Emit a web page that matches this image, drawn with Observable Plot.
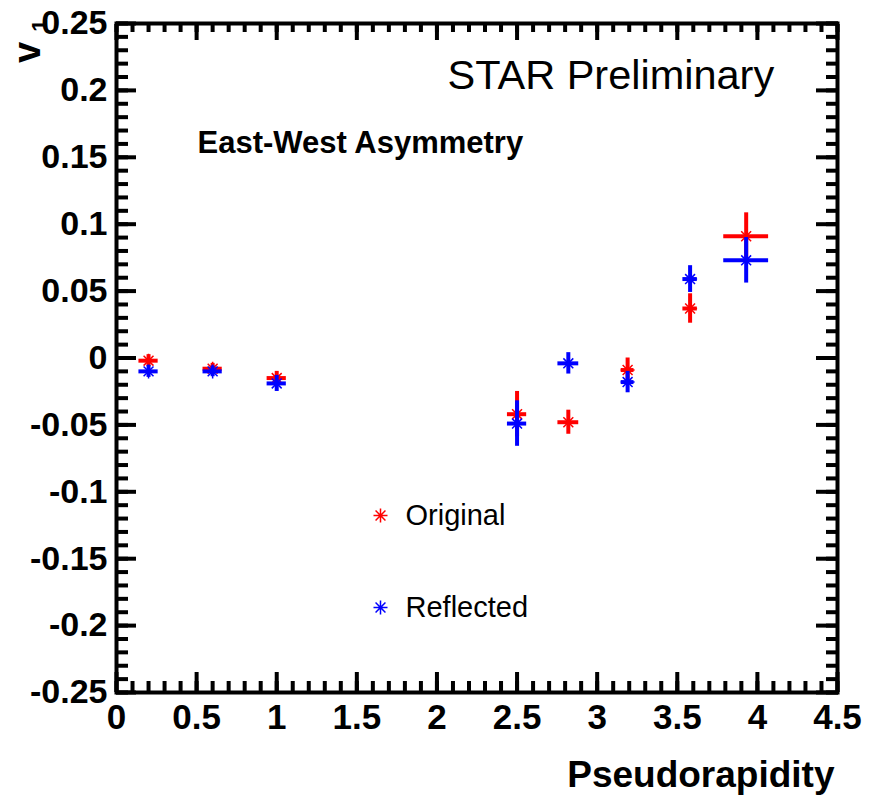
<!DOCTYPE html>
<html>
<head>
<meta charset="utf-8">
<script src="https://cdn.jsdelivr.net/npm/d3@7"></script>
<script src="https://cdn.jsdelivr.net/npm/@observablehq/plot@0.6"></script>
<style>
  html, body { margin: 0; padding: 0; background: #fff; }
  #chart { width: 873px; height: 803px; }
</style>
</head>
<body>
<div id="chart"></div>
<script>
// ---- data ----
const eta        = [0.2, 0.6, 1.0, 2.5, 2.82, 3.19, 3.58, 3.93];
const etaErr     = [0.06, 0.06, 0.06, 0.06, 0.065, 0.04, 0.045, 0.14];
const original   = [-0.002, -0.008, -0.015, -0.042, -0.048, -0.009, 0.037, 0.091];
const originalErr= [0.0045, 0.004, 0.005, 0.017, 0.009, 0.009, 0.011, 0.0175];
const reflected  = [-0.010, -0.010, -0.019, -0.049, -0.004, -0.018, 0.059, 0.073];
const reflectedErr=[0.0045, 0.004, 0.006, 0.017, 0.008, 0.008, 0.010, 0.017];

const xMajor = [0, 0.5, 1, 1.5, 2, 2.5, 3, 3.5, 4, 4.5];
const xMajorLabels = ["0", "0.5", "1", "1.5", "2", "2.5", "3", "3.5", "4", "4.5"];
const yMajor = [-0.25, -0.2, -0.15, -0.1, -0.05, 0, 0.05, 0.1, 0.15, 0.2, 0.25];
const yMajorLabels = ["-0.25", "-0.2", "-0.15", "-0.1", "-0.05", "0", "0.05", "0.1", "0.15", "0.2", "0.25"];
const xMinor = d3.range(46).map(i => i / 10);
const yMinor = d3.range(51).map(i => -0.25 + i / 100);

const seriesNames = ["Original", "Reflected"];
const seriesColors = ["#ff0000", "#0000ff"];

// ---- build tables ----
const origRows = eta.map((x, i) => ({x, dx: etaErr[i], y: original[i], dy: originalErr[i]}));
const reflRows = eta.map((x, i) => ({x, dx: etaErr[i], y: reflected[i], dy: reflectedErr[i]}));

// ROOT-like star marker (+ and x combined)
const star = {
  draw(context, size) {
    const r = Math.sqrt(size / Math.PI);
    const d = r * Math.SQRT1_2;
    context.moveTo(-r, 0); context.lineTo(r, 0);
    context.moveTo(0, -r); context.lineTo(0, r);
    context.moveTo(-d, -d); context.lineTo(d, d);
    context.moveTo(-d, d); context.lineTo(d, -d);
  }
};

const font = "'Liberation Sans', Arial, Helvetica, sans-serif";

function seriesMarks(rows, color) {
  return [
    Plot.ruleY(rows, {y: "y", x1: d => d.x - d.dx, x2: d => d.x + d.dx, stroke: color, strokeWidth: 4}),
    Plot.ruleX(rows, {x: "x", y1: d => d.y - d.dy, y2: d => d.y + d.dy, stroke: color, strokeWidth: 4}),
    Plot.dot(rows, {x: "x", y: "y", symbol: star, r: 7, stroke: color, strokeWidth: 1.5, fill: "none"})
  ];
}

const chart = Plot.plot({
  width: 873,
  height: 803,
  marginLeft: 116,
  marginRight: 36,
  marginTop: 23,
  marginBottom: 111,
  style: {fontFamily: font, background: "#fff", color: "#000"},
  x: {domain: [0, 4.5]},
  y: {domain: [-0.25, 0.25]},
  marks: [
    ...seriesMarks(origRows, seriesColors[0]),
    ...seriesMarks(reflRows, seriesColors[1]),
    // inward ticks on all four sides
    Plot.axisX({ticks: xMinor, anchor: "bottom", tickSize: -11, strokeWidth: 4, tickFormat: () => "", label: null}),
    Plot.axisX({ticks: xMajor, anchor: "bottom", tickSize: -20, strokeWidth: 4, tickFormat: () => "", label: null}),
    Plot.axisX({ticks: xMinor, anchor: "top", tickSize: -8, strokeWidth: 4, tickFormat: () => "", label: null}),
    Plot.axisX({ticks: xMajor, anchor: "top", tickSize: -16, strokeWidth: 4, tickFormat: () => "", label: null}),
    Plot.axisY({ticks: yMinor, anchor: "left", tickSize: -12, strokeWidth: 4, tickFormat: () => "", label: null}),
    Plot.axisY({ticks: yMajor, anchor: "left", tickSize: -20, strokeWidth: 4, tickFormat: () => "", label: null}),
    Plot.axisY({ticks: yMinor, anchor: "right", tickSize: -12, strokeWidth: 4, tickFormat: () => "", label: null}),
    Plot.axisY({ticks: yMajor, anchor: "right", tickSize: -22, strokeWidth: 4, tickFormat: () => "", label: null}),
    // tick labels
    Plot.axisX({ticks: xMajor, anchor: "bottom", tickSize: 0, tickPadding: 12, tickFormat: d => xMajorLabels[xMajor.indexOf(d)],
      fontSize: 35, fontWeight: "bold", fill: "#000", label: null}),
    Plot.axisY({ticks: yMajor, anchor: "left", tickSize: 0, tickPadding: 9, tickFormat: d => yMajorLabels[yMajor.indexOf(d)],
      fontSize: 34, fontWeight: "bold", fill: "#000", label: null}),
    Plot.frame({stroke: "#000", strokeWidth: 4}),
    // axis titles
    Plot.text(["Pseudorapidity"], {frameAnchor: "bottom-right", dx: -3, dy: 83, text: d => d,
      textAnchor: "end", lineAnchor: "middle", fontSize: 37, fontWeight: "bold", fill: "#000"}),
    Plot.text(["v"], {frameAnchor: "top-left", dx: -89, dy: 29, text: d => d, rotate: -90,
      textAnchor: "middle", lineAnchor: "middle", fontSize: 38, fontWeight: "bold", fill: "#000"}),
    Plot.text(["1"], {frameAnchor: "top-left", dx: -77, dy: 2, text: d => d, rotate: -90,
      textAnchor: "middle", lineAnchor: "middle", fontSize: 22, fontWeight: "bold", fill: "#000"}),
    // annotations
    Plot.text(["STAR Preliminary"], {frameAnchor: "top-left", dx: 331, dy: 52, text: d => d,
      textAnchor: "start", lineAnchor: "middle", fontSize: 41.5, fill: "#000"}),
    Plot.text(["East-West Asymmetry"], {frameAnchor: "top-left", dx: 81, dy: 120, text: d => d,
      textAnchor: "start", lineAnchor: "middle", fontSize: 31, fontWeight: "bold", fill: "#000"}),
    // legend
    Plot.dot([seriesNames[0]], {frameAnchor: "top-left", dx: 264, dy: 492, symbol: star, r: 7,
      stroke: seriesColors[0], strokeWidth: 1.5}),
    Plot.text([seriesNames[0]], {frameAnchor: "top-left", dx: 289, dy: 492, text: d => d,
      textAnchor: "start", lineAnchor: "middle", fontSize: 29, fill: "#000"}),
    Plot.dot([seriesNames[1]], {frameAnchor: "top-left", dx: 264, dy: 584, symbol: star, r: 7,
      stroke: seriesColors[1], strokeWidth: 1.5}),
    Plot.text([seriesNames[1]], {frameAnchor: "top-left", dx: 289, dy: 584, text: d => d,
      textAnchor: "start", lineAnchor: "middle", fontSize: 29, fill: "#000"})
  ]
});

document.getElementById("chart").appendChild(chart);
</script>
</body>
</html>
